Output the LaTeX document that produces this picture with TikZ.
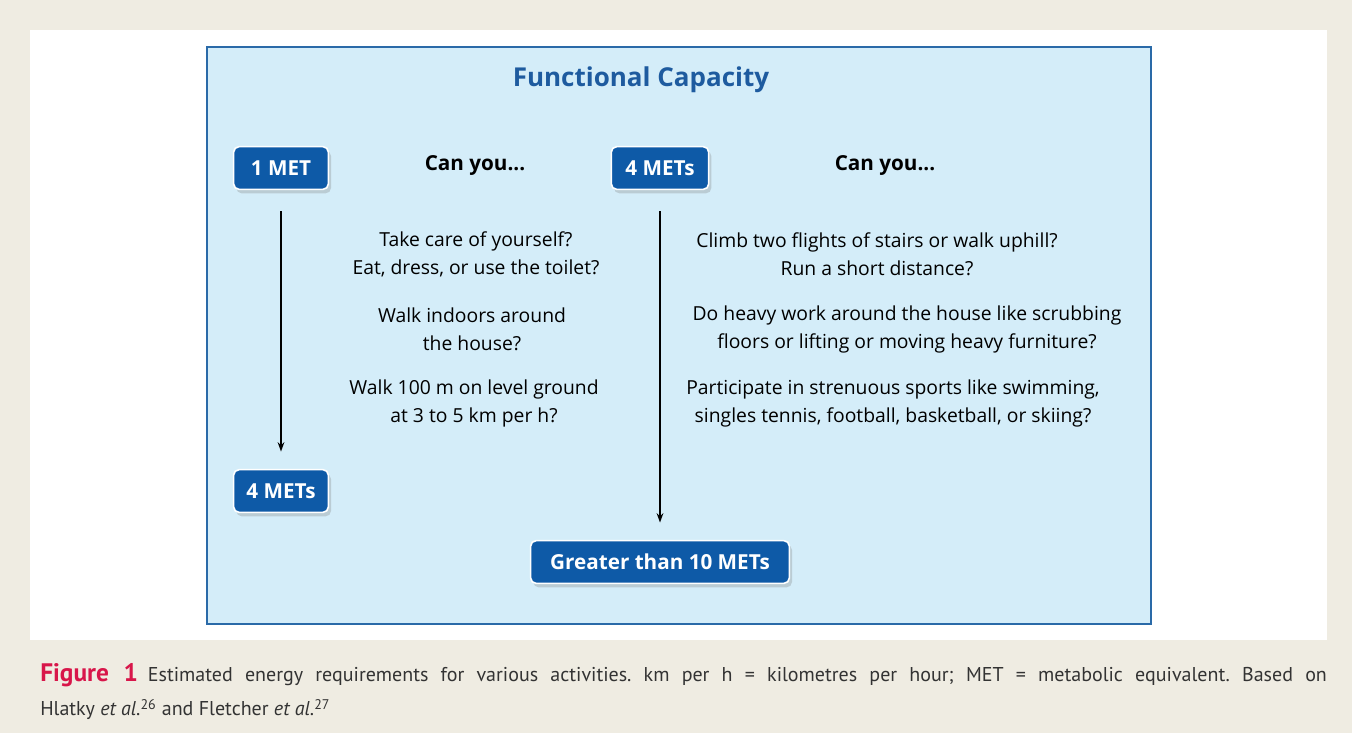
\documentclass[tikz,border=0pt]{standalone}
\usepackage{fontspec}
\setmainfont{PT Sans}
\setsansfont{Open Sans}
\newfontfamily\boxfont{Open Sans}
\usepackage{xcolor}
\usetikzlibrary{shadows,arrows.meta}
\definecolor{pagebeige}{HTML}{EFECE2}
\definecolor{panelfill}{HTML}{D4EDF9}
\definecolor{panelline}{HTML}{2A6AA8}
\definecolor{metblue}{HTML}{0E5AA7}
\definecolor{titleblue}{HTML}{1E5B9F}
\definecolor{figred}{HTML}{D8164A}
\tikzset{
    metbox/.style={rectangle, rounded corners=4pt, fill=metblue, draw=white, line width=1.2pt,
        text=white, font=\boxfont\fontsize{15.5}{18}\selectfont\bfseries, inner sep=0pt,
        minimum height=32pt, drop shadow={opacity=0.3, shadow xshift=2pt, shadow yshift=-3pt}},
    askhead/.style={font=\boxfont\fontsize{15.5}{18}\selectfont\bfseries},
    question/.style={align=center, font=\boxfont\fontsize{14.5}{21}\selectfont},
    flow/.style={-{Stealth[length=7pt,width=5pt]}, line width=1.1pt}
}
\frenchspacing
\begin{document}
\begin{tikzpicture}[x=0.75pt, y=-0.75pt]
\useasboundingbox (0,0) rectangle (1352,733);
% Page and panels
\fill[pagebeige] (0,0) rectangle (1352,733);
\fill[white] (30,30) rectangle (1327,640);
\draw[draw=panelline, line width=2pt, fill=panelfill] (207,47) rectangle (1151,624);

% Title
\node[font=\boxfont\fontsize{19.5}{22}\selectfont\bfseries, text=titleblue] (title) at (641,80) {Functional Capacity};

% Left column
\node[metbox, minimum width=71pt] (met1) at (281,168) {1 MET};
\node[askhead] (ask1) at (475,165) {Can you...};
\node[question] (q1) at (476,254) {Take care of yourself?\\Eat, dress, or use the toilet?};
\node[question] (q2) at (472,329) {Walk indoors around\\the house?};
\node[question] (q3) at (474,403) {Walk 100 m on level ground\\at 3 to 5 km per h?};
\node[metbox, minimum width=71pt] (met4a) at (281,491) {4 METs};

% Right column
\node[metbox, minimum width=73pt] (met4b) at (660,168) {4 METs};
\node[askhead] (ask2) at (885,165) {Can you...};
\node[question] (r1) at (877,254) {Climb two flights of stairs or walk uphill?\\Run a short distance?};
\node[question] (r2) at (907,329) {Do heavy work around the house like scrubbing\\floors or lifting or moving heavy furniture?};
\node[question] (r3) at (893,403) {Participate in strenuous sports like swimming,\\singles tennis, football, basketball, or skiing?};
\node[metbox, minimum width=194pt] (met10) at (660,562) {Greater than 10 METs};

% Arrows
\draw[flow, shorten <=16pt, shorten >=13pt] (met1) -- (met4a);
\draw[flow, shorten <=16pt, shorten >=13pt] (met4b) -- (met10);

% Caption
\node[anchor=north west, inner sep=0pt, text width=965pt, align=justify,
      font=\rmfamily\fontsize{15}{26}\selectfont, text=black!80] (caption) at (40,663)
  {{\color{figred}\fontsize{19}{26}\selectfont\bfseries Figure 1}\enspace Estimated energy requirements for various activities. km per h = kilometres per hour; MET = metabolic equivalent. Based on\linebreak
   Hlatky \textit{et al.}\textsuperscript{26} and Fletcher \textit{et al.}\textsuperscript{27}};
\end{tikzpicture}
\end{document}
